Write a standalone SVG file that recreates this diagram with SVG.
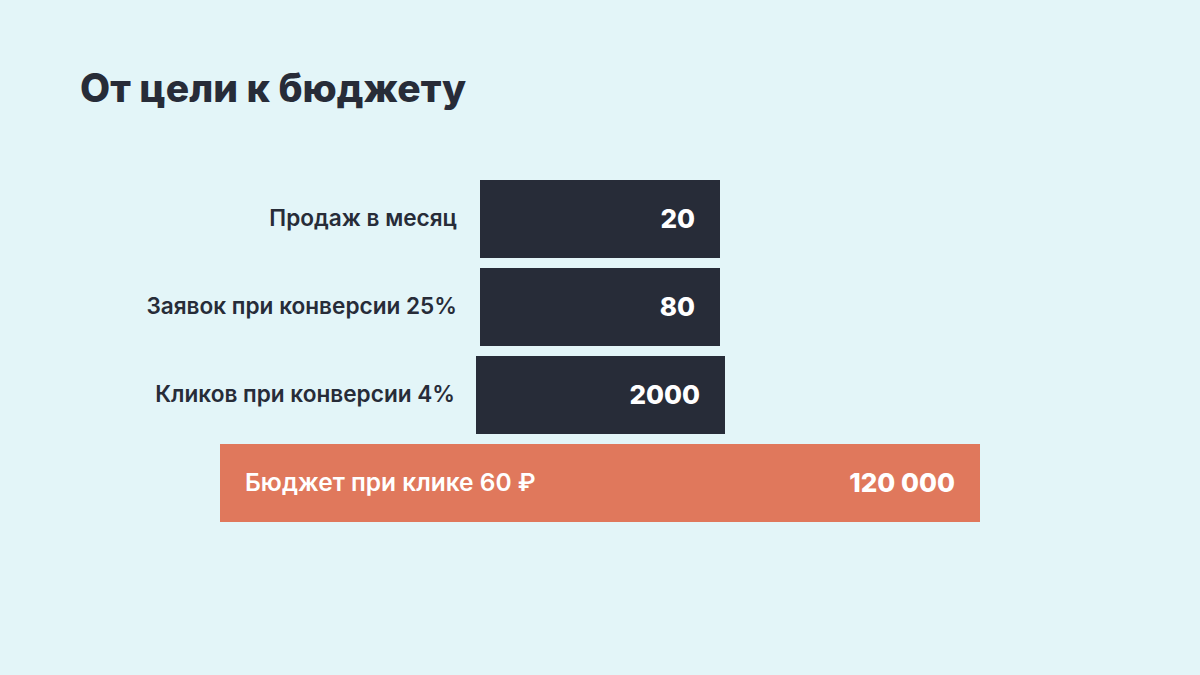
<svg xmlns="http://www.w3.org/2000/svg" width="1200" height="675" viewBox="0 0 1200 675">
<style>
.t{font-family:Inter,"Noto Sans","Liberation Sans",sans-serif;}
.title{font-size:39px;font-weight:800;fill:#272c38;}
.lbl{font-size:22.6px;font-weight:600;fill:#272c38;text-anchor:end;}
.val{font-size:26px;font-weight:800;fill:#ffffff;text-anchor:end;}
.box{fill:#272c38;}
.obox{fill:#e0785c;}
.olbl{font-size:24.5px;font-weight:600;fill:#ffffff;}
</style>
<rect width="1200" height="675" fill="#e3f5f8"/>
<text class="t title" x="80" y="102">От цели к бюджету</text>
<g id="sales">
<text class="t lbl" x="457" y="226">Продаж в месяц</text>
<rect class="box" x="480" y="180" width="240" height="78"/>
<text class="t val" x="695" y="228">20</text>
</g>
<g id="leads">
<text class="t lbl" x="457" y="314">Заявок при конверсии 25%</text>
<rect class="box" x="480" y="268" width="240" height="78"/>
<text class="t val" x="695" y="316">80</text>
</g>
<g id="clicks">
<text class="t lbl" x="455" y="402">Кликов при конверсии 4%</text>
<rect class="box" x="476" y="356" width="249" height="78"/>
<text class="t val" x="700" y="404">2000</text>
</g>
<g id="budget">
<rect class="obox" x="220" y="444" width="760" height="78"/>
<text class="t olbl" x="245" y="491">Бюджет при клике 60 ₽</text>
<text class="t val" x="955" y="492">120 000</text>
</g>
<g id="connectors"></g>
</svg>
